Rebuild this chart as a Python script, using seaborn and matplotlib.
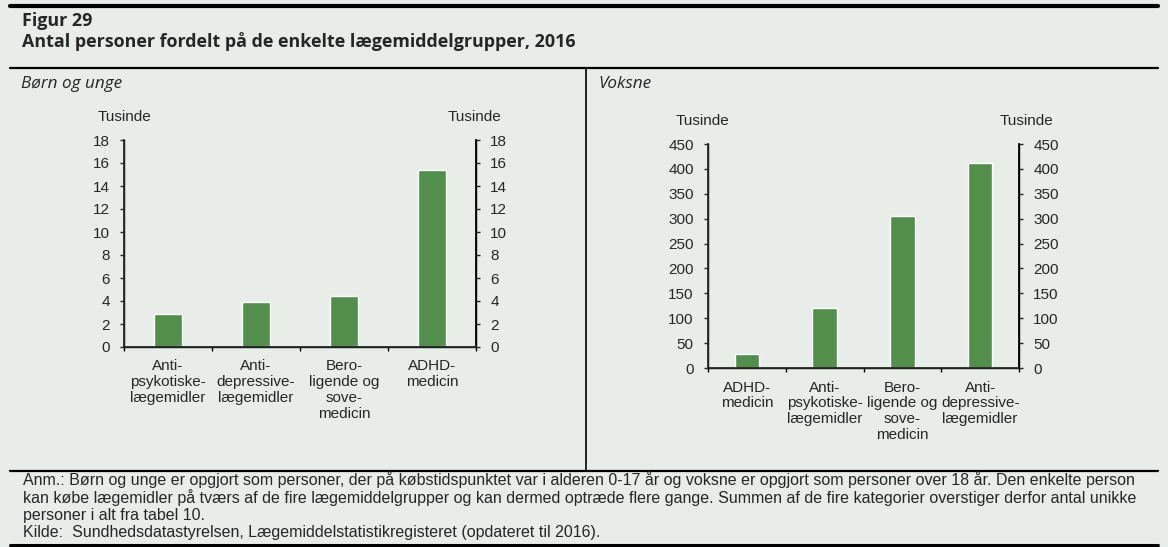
import matplotlib
matplotlib.use("Agg")
import matplotlib.pyplot as plt
import seaborn as sns
from matplotlib.lines import Line2D
from matplotlib.ticker import FixedLocator, NullFormatter


BG = "#e8edea"
BAR = "#528f4b"

# Børn og unge (tusinde personer)
child_cats = ["Anti-\npsykotiske-\nlægemidler", "Anti-\ndepressive-\nlægemidler",
              "Bero-\nligende og\nsove-\nmedicin", "ADHD-\nmedicin"]
child_vals = [2.9, 3.9, 4.4, 15.4]
child_ticks = [0, 2, 4, 6, 8, 10, 12, 14, 16, 18]

# Voksne (tusinde personer)
adult_cats = ["ADHD-\nmedicin", "Anti-\npsykotiske-\nlægemidler",
              "Bero-\nligende og\nsove-\nmedicin", "Anti-\ndepressive-\nlægemidler"]
adult_vals = [29, 120, 305, 411]
adult_ticks = [0, 50, 100, 150, 200, 250, 300, 350, 400, 450]

NOTE_LINES = [
    "Anm.: Børn og unge er opgjort som personer, der på købstidspunktet var i alderen 0-17 år og voksne er opgjort som personer over 18 år. Den enkelte person",
    "kan købe lægemidler på tværs af de fire lægemiddelgrupper og kan dermed optræde flere gange. Summen af de fire kategorier overstiger derfor antal unikke",
    "personer i alt fra tabel 10.",
    "Kilde:  Sundhedsdatastyrelsen, Lægemiddelstatistikregisteret (opdateret til 2016).",
]

FS = 11


def draw_panel(fig, rect, cats, vals, ticks):
    ax = fig.add_axes(rect)
    ax.set_facecolor(BG)
    sns.barplot(x=cats, y=vals, color=BAR, width=0.315, saturation=1, ax=ax)
    ax.set_xlim(-0.5, len(cats) - 0.5)
    ax.set_ylim(ticks[0], ticks[-1])
    ax.set_yticks(ticks)
    ax.set_xlabel("")
    ax.set_ylabel("")
    # category labels centred, tick marks at category boundaries
    ax.tick_params(axis="x", which="major", length=0, pad=9, labelsize=FS)
    ax.xaxis.set_minor_locator(FixedLocator([i - 0.5 for i in range(len(cats) + 1)]))
    ax.xaxis.set_minor_formatter(NullFormatter())
    ax.tick_params(axis="x", which="minor", length=3.2, width=1, color="black", direction="out")
    ax.tick_params(axis="y", length=3.2, width=1, labelsize=FS, pad=7)
    for lab in ax.get_xticklabels():
        lab.set_ha("center")
        lab.set_linespacing(1.18)
    ax.spines["top"].set_visible(False)
    for s in ["left", "right", "bottom"]:
        ax.spines[s].set_color("black")
        ax.spines[s].set_linewidth(1)

    ax2 = ax.twinx()
    ax2.set_ylim(ticks[0], ticks[-1])
    ax2.set_yticks(ticks)
    ax2.tick_params(axis="y", length=3.2, width=1, labelsize=FS, pad=7)
    ax2.spines["top"].set_visible(False)
    ax2.spines["right"].set_color("black")
    return ax


sns.set_theme(style="ticks")
plt.rcParams["font.family"] = ["Liberation Sans", "DejaVu Sans"]

fig = plt.figure(figsize=(11.68, 5.47), dpi=100)
fig.patch.set_facecolor(BG)

H = 547.0
W = 1168.0


def fy(px):
    return 1 - px / H


def fx(px):
    return px / W


draw_panel(fig, [fx(124), fy(347), fx(476) - fx(124), fy(140) - fy(347)],
           child_cats, child_vals, child_ticks)
draw_panel(fig, [fx(708), fy(368), fx(1019) - fx(708), fy(144) - fy(368)],
           adult_cats, adult_vals, adult_ticks)

# "Tusinde" unit labels
for x, y in [(125, 117), (475, 117), (703, 121), (1026, 121)]:
    fig.text(fx(x), fy(y), "Tusinde", ha="center", va="center", fontsize=FS)

# header
title_font = ["Open Sans", "DejaVu Sans"]
fig.text(fx(22), fy(26), "Figur 29", ha="left", va="baseline", fontsize=12.9,
         fontweight="bold", family=title_font)
fig.text(fx(22), fy(47), "Antal personer fordelt på de enkelte lægemiddelgrupper, 2016",
         ha="left", va="baseline", fontsize=12.9, fontweight="bold", family=title_font)
fig.text(fx(21), fy(88), "Børn og unge", ha="left", va="baseline", fontsize=12.3,
         style="italic", family=title_font)
fig.text(fx(598), fy(88), "Voksne", ha="left", va="baseline", fontsize=12.3,
         style="italic", family=title_font)

# note / source
for i, line in enumerate(NOTE_LINES):
    fig.text(fx(23), fy(480 + 17.6 * i), line, ha="left", va="center", fontsize=11.5)

# frame lines
L, R = 10, 1158
lines = [
    ((L, R), (5.5, 5.5), 3.0),
    ((L, R), (68, 68), 1.6),
    ((L, R), (471, 471), 1.6),
    ((L, R), (544.5, 544.5), 2.2),
    ((586, 586), (68, 471), 1.2),
]
for xs, ys, lw in lines:
    fig.add_artist(Line2D([fx(xs[0]), fx(xs[1])], [fy(ys[0]), fy(ys[1])],
                          transform=fig.transFigure, color="black", linewidth=lw))

fig.savefig("out.png", dpi=100, facecolor=BG)
